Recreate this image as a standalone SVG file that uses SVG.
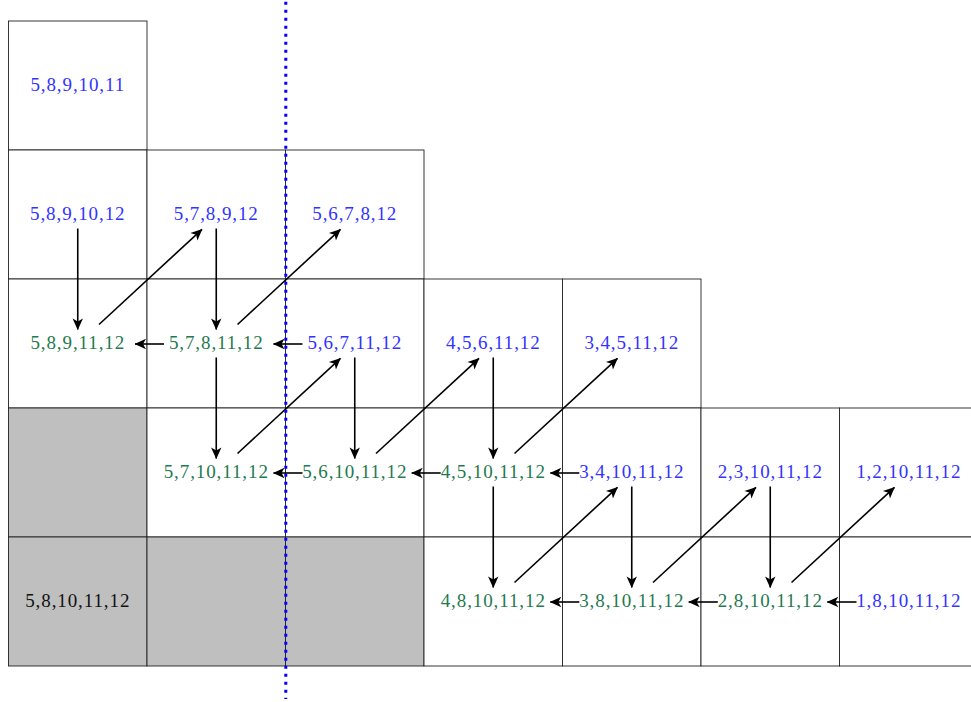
<svg xmlns="http://www.w3.org/2000/svg" width="971" height="702" viewBox="0 0 971 702">
<style>
.cell{fill:#fff;stroke:#222;stroke-width:0.9}
.grey{fill:#bfbfbf;stroke:#222;stroke-width:0.9}
text{font-family:"Liberation Serif","DejaVu Serif",serif;font-size:19px;letter-spacing:0.9px;text-anchor:middle}
.b{fill:#3333ff}
.g{fill:#1f7a4f}
.k{fill:#111}
.ar line{stroke:#000;stroke-width:1.6;marker-end:url(#ah)}
</style>
<defs>
<marker id="ah" markerUnits="userSpaceOnUse" markerWidth="14" markerHeight="12" viewBox="-12 -6 13 12" refX="0" refY="0" orient="auto">
<path d="M0.5,0 L-11,-5.2 L-8,0 L-11,5.2 Z" fill="#000"/>
</marker>
</defs>
<rect width="971" height="702" fill="#fff"/>
<g id="grid">
<rect class="cell" x="8.5" y="21" width="138.5" height="129"/>
<rect class="cell" x="8.5" y="150" width="138.5" height="129"/>
<rect class="cell" x="147" y="150" width="138.5" height="129"/>
<rect class="cell" x="285.5" y="150" width="138.5" height="129"/>
<rect class="cell" x="8.5" y="279" width="138.5" height="129"/>
<rect class="cell" x="147" y="279" width="138.5" height="129"/>
<rect class="cell" x="285.5" y="279" width="138.5" height="129"/>
<rect class="cell" x="424" y="279" width="138.5" height="129"/>
<rect class="cell" x="562.5" y="279" width="138.5" height="129"/>
<rect class="grey" x="8.5" y="408" width="138.5" height="129"/>
<rect class="cell" x="147" y="408" width="138.5" height="129"/>
<rect class="cell" x="285.5" y="408" width="138.5" height="129"/>
<rect class="cell" x="424" y="408" width="138.5" height="129"/>
<rect class="cell" x="562.5" y="408" width="138.5" height="129"/>
<rect class="cell" x="701" y="408" width="138.5" height="129"/>
<rect class="cell" x="839.5" y="408" width="138.5" height="129"/>
<rect class="grey" x="8.5" y="537" width="138.5" height="129"/>
<rect class="grey" x="147" y="537" width="138.5" height="129"/>
<rect class="grey" x="285.5" y="537" width="138.5" height="129"/>
<rect class="cell" x="424" y="537" width="138.5" height="129"/>
<rect class="cell" x="562.5" y="537" width="138.5" height="129"/>
<rect class="cell" x="701" y="537" width="138.5" height="129"/>
<rect class="cell" x="839.5" y="537" width="138.5" height="129"/>
</g>
<g id="n-5-8-9-10-11"><text class="b" x="77.75" y="91">5,8,9,10,11</text></g>
<g id="n-5-8-9-10-12"><text class="b" x="77.75" y="220">5,8,9,10,12</text></g>
<g id="n-5-7-8-9-12"><text class="b" x="216.25" y="220">5,7,8,9,12</text></g>
<g id="n-5-6-7-8-12"><text class="b" x="354.75" y="220">5,6,7,8,12</text></g>
<g id="n-5-8-9-11-12"><text class="g" x="77.75" y="349">5,8,9,11,12</text></g>
<g id="n-5-7-8-11-12"><text class="g" x="216.25" y="349">5,7,8,11,12</text></g>
<g id="n-5-6-7-11-12"><text class="b" x="354.75" y="349">5,6,7,11,12</text></g>
<g id="n-4-5-6-11-12"><text class="b" x="493.25" y="349">4,5,6,11,12</text></g>
<g id="n-3-4-5-11-12"><text class="b" x="631.75" y="349">3,4,5,11,12</text></g>
<g id="n-5-7-10-11-12"><text class="g" x="216.25" y="478">5,7,10,11,12</text></g>
<g id="n-5-6-10-11-12"><text class="g" x="354.75" y="478">5,6,10,11,12</text></g>
<g id="n-4-5-10-11-12"><text class="g" x="493.25" y="478">4,5,10,11,12</text></g>
<g id="n-3-4-10-11-12"><text class="b" x="631.75" y="478">3,4,10,11,12</text></g>
<g id="n-2-3-10-11-12"><text class="b" x="770.25" y="478">2,3,10,11,12</text></g>
<g id="n-1-2-10-11-12"><text class="b" x="908.75" y="478">1,2,10,11,12</text></g>
<g id="n-5-8-10-11-12"><text class="k" x="77.75" y="607">5,8,10,11,12</text></g>
<g id="n-4-8-10-11-12"><text class="g" x="493.25" y="607">4,8,10,11,12</text></g>
<g id="n-3-8-10-11-12"><text class="g" x="631.75" y="607">3,8,10,11,12</text></g>
<g id="n-2-8-10-11-12"><text class="g" x="770.25" y="607">2,8,10,11,12</text></g>
<g id="n-1-8-10-11-12"><text class="b" x="908.75" y="607">1,8,10,11,12</text></g>
<g id="connectors" class="ar">
<line x1="77.75" y1="228.5" x2="77.75" y2="329.5"/>
<line x1="216.25" y1="228.5" x2="216.25" y2="329.5"/>
<line x1="216.25" y1="357.5" x2="216.25" y2="458.5"/>
<line x1="354.75" y1="357.5" x2="354.75" y2="458.5"/>
<line x1="493.25" y1="357.5" x2="493.25" y2="458.5"/>
<line x1="493.25" y1="486.5" x2="493.25" y2="587.5"/>
<line x1="631.75" y1="486.5" x2="631.75" y2="587.5"/>
<line x1="770.25" y1="486.5" x2="770.25" y2="587.5"/>
<line x1="99" y1="324.5" x2="202" y2="229.3"/>
<line x1="237.5" y1="324.5" x2="340.5" y2="229.3"/>
<line x1="237.5" y1="453.5" x2="340.5" y2="358.3"/>
<line x1="376" y1="453.5" x2="479" y2="358.3"/>
<line x1="514.5" y1="453.5" x2="617.5" y2="358.3"/>
<line x1="514.5" y1="582.5" x2="617.5" y2="487.3"/>
<line x1="653" y1="582.5" x2="756" y2="487.3"/>
<line x1="791.5" y1="582.5" x2="894.5" y2="487.3"/>
<line x1="302.5" y1="344" x2="273.5" y2="344"/>
<line x1="164" y1="344" x2="135" y2="344"/>
<line x1="579.3" y1="473" x2="550.3" y2="473"/>
<line x1="440.7" y1="473" x2="411.7" y2="473"/>
<line x1="302.5" y1="473" x2="273.5" y2="473"/>
<line x1="856.5" y1="602" x2="827.3" y2="602"/>
<line x1="717.8" y1="602" x2="688.7" y2="602"/>
<line x1="579.3" y1="602" x2="550.3" y2="602"/>
</g>
<line id="divider" x1="285.8" y1="1.8" x2="285.8" y2="699" stroke="#0000ff" stroke-width="3" stroke-dasharray="3 5"/>
</svg>
